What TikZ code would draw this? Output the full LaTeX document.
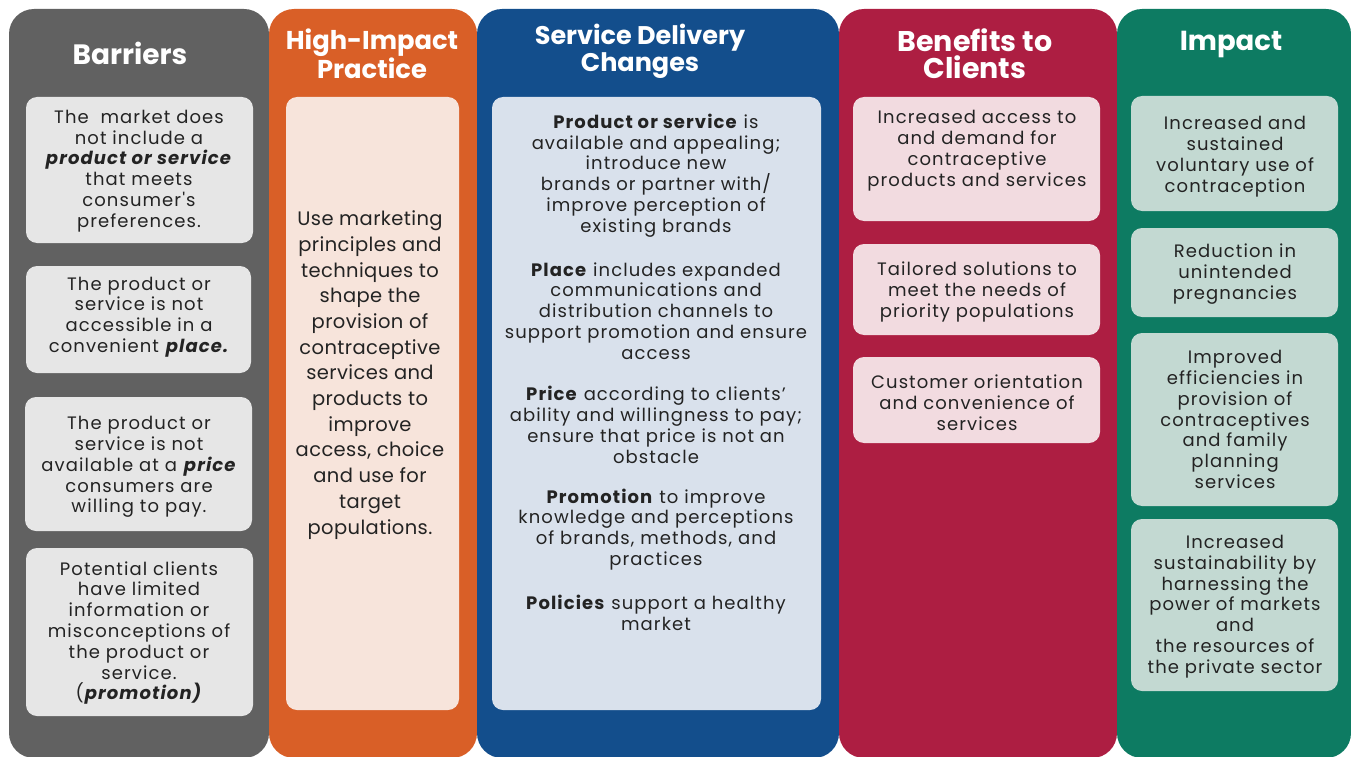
\documentclass[tikz,border=0pt]{standalone}
\usepackage{fontspec}
\setmainfont{Poppins}
\newfontfamily\bodyfont{Poppins}[LetterSpace=6]
\newfontfamily\bodyfontL{Poppins}[LetterSpace=2]
\definecolor{cgray}{HTML}{616161}
\definecolor{igray}{HTML}{E6E6E6}
\definecolor{corange}{HTML}{D95F27}
\definecolor{iorange}{HTML}{F7E4DB}
\definecolor{cblue}{HTML}{134E8C}
\definecolor{iblue}{HTML}{D9E1EC}
\definecolor{ccrim}{HTML}{AD1E42}
\definecolor{icrim}{HTML}{F2DBE0}
\definecolor{cgreen}{HTML}{0D7B62}
\definecolor{igreen}{HTML}{C3D9D2}
\definecolor{textc}{HTML}{232323}
\tikzset{
  colbox/.style={rounded corners=25pt},
  innerbox/.style={rounded corners=11pt},
  hdr/.style={text=white, font=\bfseries\fontsize{26.5}{29}\selectfont, align=center, inner sep=0pt},
  body/.style={text=textc, font=\bodyfont\fontsize{18}{20.8}\selectfont, align=center, inner sep=0pt},
  bodyL/.style={text=textc, font=\bodyfontL\fontsize{19.5}{25.7}\selectfont, align=center, inner sep=0pt},
}
\begin{document}
\begin{tikzpicture}[x=1pt,y=-1pt]
\useasboundingbox (0,0) rectangle (1351,757);
% columns
\fill[cgray,colbox] (9,9) rectangle (269,758);
\fill[corange,colbox] (269,9) rectangle (477,758);
\fill[cblue,colbox] (477,9) rectangle (839,758);
\fill[ccrim,colbox] (839,9) rectangle (1117,758);
\fill[cgreen,colbox] (1117,9) rectangle (1351,758);
% inner boxes
\fill[igray,innerbox] (26,97) rectangle (253,243);
\fill[igray,innerbox] (26,266) rectangle (251,373);
\fill[igray,innerbox] (25,397) rectangle (252,531);
\fill[igray,innerbox] (26,548) rectangle (253,716);
\fill[iorange,innerbox] (286,97) rectangle (459,710);
\fill[iblue,innerbox] (492,97) rectangle (821,710);
\fill[icrim,innerbox] (853,97) rectangle (1100,221);
\fill[icrim,innerbox] (853,244) rectangle (1100,335);
\fill[icrim,innerbox] (853,357) rectangle (1100,443);
\fill[igreen,innerbox] (1131,96) rectangle (1338,211);
\fill[igreen,innerbox] (1131,228) rectangle (1338,317);
\fill[igreen,innerbox] (1131,333) rectangle (1338,506);
\fill[igreen,innerbox] (1131,519) rectangle (1338,691);
% headers
\node[hdr, font=\bfseries\fontsize{28}{29}\selectfont] (hbar) at (130,53) {Barriers};
\node[hdr, font=\bfseries\fontsize{25.8}{29}\selectfont] (hhip) at (372,54) {High-Impact\\Practice};
\node[hdr, font=\bfseries\fontsize{25.5}{24}\selectfont] (hsdc) at (640,51) {Service Delivery\\Changes};
\node[hdr, font=\bfseries\fontsize{28.5}{27}\selectfont] (hben) at (975,54) {Benefits to\\Clients};
\node[hdr, font=\bfseries\fontsize{27.5}{29}\selectfont] (himp) at (1231,45) {Impact};
% barriers
\node[body] (b1) at (139,171) {The\ \ market does\\not include a\\\textbf{\textit{product or service}}\\that meets\\consumer's\\preferences.};
\node[body] (b2) at (139,317) {The product or\\service is not\\accessible in a\\convenient \textbf{\textit{place.}}};
\node[body] (b3) at (139,467) {The product or\\service is not\\available at a \textbf{\textit{price}}\\consumers are\\willing to pay.};
\node[body] (b4) at (139,633) {Potential clients\\have limited\\information or\\misconceptions of\\the product or\\service.\\(\textbf{\textit{promotion)}}};
% high-impact practice
\node[bodyL] (hip) at (370,375) {Use marketing\\principles and\\techniques to\\shape the\\provision of\\contraceptive\\services and\\products to\\improve\\access, choice\\and use for\\target\\populations.};
% service delivery changes
\node[body] (s1) at (656,175.5) {\textbf{Product or service} is\\available and appealing;\\introduce new\\brands or partner with/\\improve perception of\\existing brands};
\node[body] (s2) at (656,311) {\textbf{Place} includes expanded\\communications and\\distribution channels to\\support promotion and ensure\\access};
\node[body] (s3) at (656,425) {\textbf{Price} according to clients’\\ability and willingness to pay;\\ensure that price is not an\\obstacle};
\node[body] (s4) at (656,529.5) {\textbf{Promotion} to improve\\knowledge and perceptions\\of brands, methods, and\\practices};
\node[body] (s5) at (656,612.5) {\textbf{Policies} support a healthy\\market};
% benefits
\node[body] (c1) at (977,150.5) {Increased access to\\and demand for\\contraceptive\\products and services};
\node[body] (c2) at (977,292) {Tailored solutions to\\meet the needs of\\priority populations};
\node[body] (c3) at (977,403) {Customer orientation\\and convenience of\\services};
% impact
\node[body] (g1) at (1235,156.5) {Increased and\\sustained\\voluntary use of\\contraception};
\node[body] (g2) at (1235,274) {Reduction in\\unintended\\pregnancies};
\node[body] (g3) at (1235,419.5) {Improved\\efficiencies in\\provision of\\contraceptives\\and family\\planning\\services};
\node[body] (g4) at (1235,606.5) {Increased\\sustainability by\\harnessing the\\power of markets\\and\\the resources of\\the private sector};
\end{tikzpicture}
\end{document}
